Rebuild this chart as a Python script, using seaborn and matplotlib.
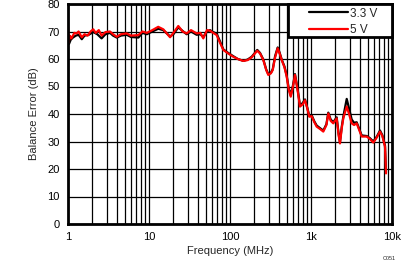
import matplotlib
matplotlib.use("Agg")
import matplotlib.pyplot as plt
import seaborn as sns
import pandas as pd
import numpy as np
from matplotlib.ticker import FixedLocator, NullFormatter
from matplotlib.lines import Line2D
from matplotlib.patches import Rectangle

freq_5v = [1.0, 1.02, 1.05, 1.1, 1.2, 1.28, 1.35, 1.48, 1.6, 1.75, 1.9, 2.05, 2.2, 2.4, 2.6, 2.9,
           3.3, 3.6, 4.0, 4.5, 5.3, 6.0, 7.4, 8.3, 9.4, 11, 13, 15, 18.2, 20, 23, 26, 29.2, 33,
           38.8, 43, 46.8, 52, 56.6, 62, 68.5, 75, 82.7, 95, 110, 125, 146, 165, 185, 200, 217,
           235, 258, 280, 297, 320, 337, 360, 388, 410, 435, 470, 501, 530, 562, 600, 634, 680,
           731, 790, 843, 900, 953, 1021, 1100, 1175, 1300, 1419, 1550, 1636, 1750, 1884, 2075,
           2200, 2279, 2400, 2505, 2760, 2950, 3180, 3400, 3665, 4226, 4874, 5300, 5877, 6500,
           7110, 7600, 8200, 8430]
db_5v = [71.5, 66, 68.5, 67.5, 69.5, 69.3, 70, 67.9, 69, 68.5, 70, 70.8, 69.5, 70.5, 68.5, 69.8,
         70, 69, 68.1, 69, 69.3, 68.5, 68.7, 70, 69.5, 70.5, 71.7, 70.8, 67.9, 69.5, 72, 70, 69.3,
         70.5, 69.3, 69.5, 67.5, 70.5, 70.3, 69.5, 68.7, 66, 63.3, 62, 60.8, 60, 59.3, 59.6, 60.6,
         61.8, 63, 62, 59.6, 56, 54.2, 54.8, 56, 60.5, 63.9, 62, 59.6, 57, 53.6, 49, 46.3, 50,
         54.2, 49, 42.7, 43.5, 45, 42, 39, 39.2, 37, 35.4, 34.5, 33.6, 36, 40.2, 37.5, 36.6, 38.4,
         32, 29.3, 35, 38.4, 42.7, 40, 36.6, 36, 36.6, 31.8, 31.8, 31, 29.6, 31.5, 33.6, 32, 28.1,
         18.4]

freq_33v = [1.0, 1.03, 1.08, 1.15, 1.25, 1.35, 1.48, 1.6, 1.8, 2.05, 2.3, 2.6, 2.9, 3.3, 3.6,
            4.0, 4.5, 5.3, 6.0, 7.4, 8.3, 9.4, 11, 13, 15, 18.2, 20, 23, 26, 29.2, 33, 38.8, 43,
            46.8, 52, 56.6, 62, 68.5, 75, 82.7, 95, 110, 125, 146, 165, 185, 200, 217, 235, 258,
            280, 297, 320, 337, 360, 388, 410, 435, 470, 501, 530, 562, 600, 634, 680, 731, 790,
            843, 900, 953, 1021, 1100, 1175, 1300, 1419, 1550, 1636, 1750, 1884, 2075, 2200, 2279,
            2400, 2505, 2760, 2950, 3180, 3400, 3665, 4226, 4874, 5300, 5877, 6500, 7110, 7600,
            8200, 8430]
db_33v = [68, 65.5, 67, 67.8, 68.5, 68.8, 67.2, 68.5, 68.8, 69.8, 69, 67.5, 69, 69.5, 68.5,
          67.8, 68.5, 68.8, 68, 67.8, 69.5, 69, 70, 71, 70.5, 68.2, 69, 71.5, 70.2, 69, 70, 68.8,
          69, 68, 70, 70.5, 69.8, 69.2, 66.5, 63.5, 62.2, 61, 60, 59.3, 59.8, 60.8, 62, 63.3,
          62.2, 59.8, 56.2, 54.5, 55, 56.3, 61, 64.2, 62.3, 59.8, 57.3, 54, 49.5, 46.8, 50.5,
          54.5, 49.5, 43.2, 44, 45.3, 42.3, 39.3, 39.5, 37.3, 35.8, 34.8, 34, 36.3, 40.5, 38,
          37, 38.8, 32.5, 29.8, 35.5, 39, 45.5, 42, 38, 36.8, 37, 32.2, 32, 31.3, 30, 31.8, 34,
          32.3, 28.5, 18.8]

xticks = [1, 10, 100, 1000, 10000]
xtick_labels = ["1", "10", "100", "1k", "10k"]
yticks = [0, 10, 20, 30, 40, 50, 60, 70, 80]

df = pd.concat([
    pd.DataFrame({"Frequency": freq_33v, "dB": db_33v, "Supply": "3.3 V"}),
    pd.DataFrame({"Frequency": freq_5v, "dB": db_5v, "Supply": "5 V"}),
])

sns.set_style("white")
plt.rcParams["font.family"] = ["Liberation Sans", "DejaVu Sans"]

fig = plt.figure(figsize=(4.07, 2.66), dpi=100)
ax = fig.add_axes([68 / 407, 1 - 224 / 266, (392 - 68) / 407, 220 / 266])

sns.lineplot(data=df, x="Frequency", y="dB", hue="Supply",
             palette={"3.3 V": "black", "5 V": "#ff0000"},
             linewidth=1.6, ax=ax, estimator=None, sort=False, legend=False)

ax.set_xscale("log")
ax.set_xlim(1, 10000)
ax.set_ylim(0, 80)

minor = [m * 10 ** e for e in range(0, 4) for m in range(2, 10)]
ax.xaxis.set_major_locator(FixedLocator(xticks))
ax.xaxis.set_minor_locator(FixedLocator(minor))
ax.xaxis.set_minor_formatter(NullFormatter())
ax.set_xticklabels(xtick_labels)
ax.set_yticks(yticks)

ax.grid(True, which="both", axis="x", color="black", linewidth=0.9)
ax.grid(True, which="major", axis="y", color="black", linewidth=0.9)
ax.set_axisbelow(True)
ax.tick_params(which="both", length=0, labelsize=8, pad=6, colors="black")

for s in ax.spines.values():
    s.set_visible(True)
    s.set_color("black")
    s.set_linewidth(2)

ax.set_xlabel("Frequency (MHz)", fontsize=8, labelpad=3)
ax.set_ylabel("Balance Error (dB)", fontsize=8, labelpad=6)

# legend box
bx0 = (288 - 68) / 324
by0 = 1 - (37 - 4) / 220
ax.add_patch(Rectangle((bx0, by0), 1 - bx0, 1 - by0, transform=ax.transAxes,
                       facecolor="white", edgecolor="black", linewidth=2,
                       zorder=4, clip_on=False))

handles = [Line2D([], [], color="black", linewidth=1.6),
           Line2D([], [], color="#ff0000", linewidth=1.6)]
leg = ax.legend(handles, ["3.3 V", "5 V"], loc="upper left",
                bbox_to_anchor=((305 - 68) / 324, 1.0), fontsize=8.5,
                frameon=False, borderaxespad=0, handlelength=3.3,
                handletextpad=0.25, borderpad=0.3, labelspacing=0.35)
leg.set_zorder(5)

fig.text(396 / 407, 1 - 258 / 266, "C051", fontsize=4, ha="right", va="center")

fig.savefig("out.png", dpi=100)
